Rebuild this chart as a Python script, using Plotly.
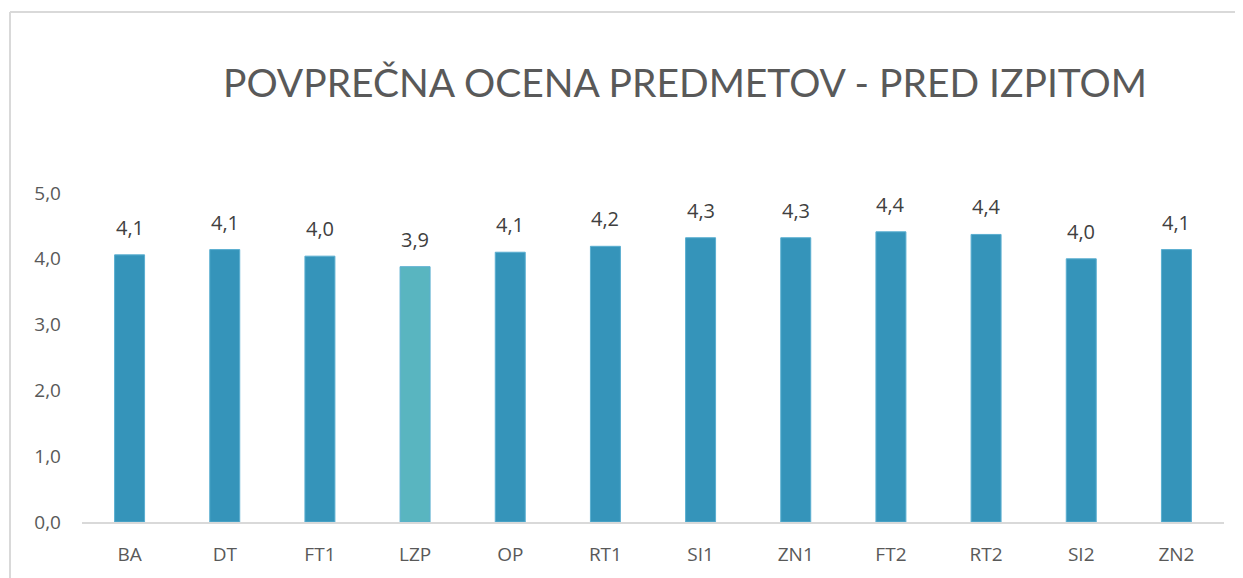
import plotly.graph_objects as go

categories = ["BA", "DT", "FT1", "LZP", "OP", "RT1", "SI1", "ZN1", "FT2", "RT2", "SI2", "ZN2"]
values = [4.06, 4.14, 4.04, 3.88, 4.10, 4.19, 4.32, 4.32, 4.41, 4.37, 4.00, 4.14]
bar_colors = ["#3594BA", "#3594BA", "#3594BA", "#59B5C0", "#3594BA", "#3594BA",
              "#3594BA", "#3594BA", "#3594BA", "#3594BA", "#3594BA", "#3594BA"]
y_ticks = [0, 1, 2, 3, 4, 5]
title_text = "POVPREČNA OCENA PREDMETOV - PRED IZPITOM"

# page has an 8px body margin; figure drawn in screen coords minus offset
O = 8
W, H = 1243 - O, 578 - O
L, R, T, B = 82 - O, 19, 193 - O, 56

fig = go.Figure(go.Bar(
    x=categories, y=values,
    marker=dict(color=bar_colors, line=dict(color="#5aaed0", width=1)),
    hoverinfo="x+y",
))

pw = W - L - R
ph = H - T - B
def px(x):
    return (x - O - L) / pw
def py(y):
    return (H - B - (y - O)) / ph

labels = [dict(x=c, y=v, xref="x", yref="y", text=f"{v:.1f}".replace(".", ","),
               showarrow=False, yanchor="bottom", yshift=12,
               font=dict(family="Open Sans", size=20, color="#404040"))
          for c, v in zip(categories, values)]

fig.update_layout(
    width=W, height=H,
    margin=dict(l=L, r=R, t=T, b=B, autoexpand=False),
    paper_bgcolor="white", plot_bgcolor="white",
    separators=", ",
    bargap=0.685,
    showlegend=False,
    font=dict(family="Open Sans", color="#595959"),
    xaxis=dict(showgrid=False, showline=True, linecolor="#d9d9d9", linewidth=2,
               ticks="", tickfont=dict(size=19, color="#595959"), ticklabelstandoff=14),
    yaxis=dict(range=[0, 5], tickvals=y_ticks, tickformat=".1f", showgrid=False,
               zeroline=False, showline=False, ticks="",
               tickfont=dict(size=19, color="#595959"), ticklabelstandoff=20),
    annotations=labels + [dict(text=title_text, x=px(685), y=py(82), xref="paper", yref="paper",
                      xanchor="center", yanchor="middle", showarrow=False,
                      font=dict(family="Lato", size=39, color="#595959"))],
    shapes=[
        dict(type="line", xref="paper", yref="paper", x0=px(10), x1=px(1243), y0=py(12), y1=py(12),
             line=dict(color="#d9d9d9", width=2)),
        dict(type="line", xref="paper", yref="paper", x0=px(10), x1=px(10), y0=py(12), y1=py(578),
             line=dict(color="#d9d9d9", width=2)),
    ],
)

fig.write_html("out.html")
